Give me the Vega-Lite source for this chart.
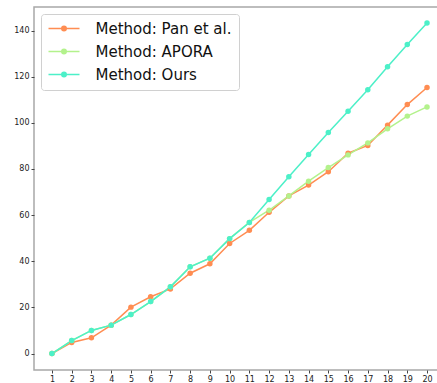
{
  "$schema": "https://vega.github.io/schema/vega-lite/v6.json",
  "width": 410,
  "height": 363,
  "autosize": {"type": "none"},
  "padding": {"left": 34, "top": 7, "right": 0, "bottom": 13},
  "background": "white",
  "config": {
    "view": {"stroke": "#a8a8a8", "strokeWidth": 1.5},
    "font": "DejaVu Sans",
    "axis": {
      "grid": false,
      "domain": false,
      "labelFont": "DejaVu Sans",
      "labelFontSize": 8,
      "labelColor": "#222",
      "tickColor": "#444",
      "tickSize": 3,
      "labelPadding": 2,
      "title": null
    }
  },
  "data": {
    "values": [
      {"x": 1, "method": "Method: Pan et al.", "value": 0},
      {"x": 2, "method": "Method: Pan et al.", "value": 4.8},
      {"x": 3, "method": "Method: Pan et al.", "value": 6.8},
      {"x": 4, "method": "Method: Pan et al.", "value": 12.3},
      {"x": 5, "method": "Method: Pan et al.", "value": 20.1},
      {"x": 6, "method": "Method: Pan et al.", "value": 24.6},
      {"x": 7, "method": "Method: Pan et al.", "value": 28.0},
      {"x": 8, "method": "Method: Pan et al.", "value": 34.8},
      {"x": 9, "method": "Method: Pan et al.", "value": 38.9},
      {"x": 10, "method": "Method: Pan et al.", "value": 47.7},
      {"x": 11, "method": "Method: Pan et al.", "value": 53.4},
      {"x": 12, "method": "Method: Pan et al.", "value": 61.2},
      {"x": 13, "method": "Method: Pan et al.", "value": 68.3},
      {"x": 14, "method": "Method: Pan et al.", "value": 73.0},
      {"x": 15, "method": "Method: Pan et al.", "value": 78.8},
      {"x": 16, "method": "Method: Pan et al.", "value": 86.8},
      {"x": 17, "method": "Method: Pan et al.", "value": 90.2},
      {"x": 18, "method": "Method: Pan et al.", "value": 99.0},
      {"x": 19, "method": "Method: Pan et al.", "value": 107.9},
      {"x": 20, "method": "Method: Pan et al.", "value": 115.3},
      {"x": 1, "method": "Method: APORA", "value": 0},
      {"x": 2, "method": "Method: APORA", "value": 5.6},
      {"x": 3, "method": "Method: APORA", "value": 10.0},
      {"x": 4, "method": "Method: APORA", "value": 12.3},
      {"x": 5, "method": "Method: APORA", "value": 16.9},
      {"x": 6, "method": "Method: APORA", "value": 22.5},
      {"x": 7, "method": "Method: APORA", "value": 28.9},
      {"x": 8, "method": "Method: APORA", "value": 37.6},
      {"x": 9, "method": "Method: APORA", "value": 41.3},
      {"x": 10, "method": "Method: APORA", "value": 49.8},
      {"x": 11, "method": "Method: APORA", "value": 56.8},
      {"x": 12, "method": "Method: APORA", "value": 62.1},
      {"x": 13, "method": "Method: APORA", "value": 68.3},
      {"x": 14, "method": "Method: APORA", "value": 74.7},
      {"x": 15, "method": "Method: APORA", "value": 80.6},
      {"x": 16, "method": "Method: APORA", "value": 86.1},
      {"x": 17, "method": "Method: APORA", "value": 91.3},
      {"x": 18, "method": "Method: APORA", "value": 97.4},
      {"x": 19, "method": "Method: APORA", "value": 102.9},
      {"x": 20, "method": "Method: APORA", "value": 106.9},
      {"x": 1, "method": "Method: Ours", "value": 0},
      {"x": 2, "method": "Method: Ours", "value": 5.6},
      {"x": 3, "method": "Method: Ours", "value": 10.0},
      {"x": 4, "method": "Method: Ours", "value": 12.3},
      {"x": 5, "method": "Method: Ours", "value": 16.9},
      {"x": 6, "method": "Method: Ours", "value": 22.5},
      {"x": 7, "method": "Method: Ours", "value": 28.9},
      {"x": 8, "method": "Method: Ours", "value": 37.6},
      {"x": 9, "method": "Method: Ours", "value": 41.3},
      {"x": 10, "method": "Method: Ours", "value": 49.8},
      {"x": 11, "method": "Method: Ours", "value": 56.8},
      {"x": 12, "method": "Method: Ours", "value": 66.8},
      {"x": 13, "method": "Method: Ours", "value": 76.6},
      {"x": 14, "method": "Method: Ours", "value": 86.3},
      {"x": 15, "method": "Method: Ours", "value": 95.8},
      {"x": 16, "method": "Method: Ours", "value": 105.0},
      {"x": 17, "method": "Method: Ours", "value": 114.3},
      {"x": 18, "method": "Method: Ours", "value": 124.3},
      {"x": 19, "method": "Method: Ours", "value": 133.9},
      {"x": 20, "method": "Method: Ours", "value": 143.3}
    ]
  },
  "mark": {
    "type": "line",
    "strokeWidth": 1.5,
    "clip": true,
    "point": {"filled": true, "size": 30, "opacity": 1}
  },
  "encoding": {
    "x": {
      "field": "x",
      "type": "quantitative",
      "scale": {"domain": [0.09, 20.86], "nice": false, "zero": false},
      "axis": {"values": [1,2,3,4,5,6,7,8,9,10,11,12,13,14,15,16,17,18,19,20], "format": "d"}
    },
    "y": {
      "field": "value",
      "type": "quantitative",
      "scale": {"domain": [-7.15, 150.2], "nice": false, "zero": false},
      "axis": {"values": [0, 20, 40, 60, 80, 100, 120, 140], "format": "d"}
    },
    "color": {
      "field": "method",
      "type": "nominal",
      "sort": ["Method: Pan et al.", "Method: APORA", "Method: Ours"],
      "scale": {
        "domain": ["Method: Pan et al.", "Method: APORA", "Method: Ours"],
        "range": ["#ff8d52", "#b3f28c", "#4cf0c8"]
      },
      "legend": {
        "title": null,
        "orient": "top-left",
        "offset": 7,
        "labelFont": "DejaVu Sans",
        "labelFontSize": 15,
        "labelColor": "#111",
        "labelLimit": 400,
        "labelOffset": 32.5,
        "rowPadding": 7,
        "padding": 7,
        "strokeColor": "#d0d0d0",
        "fillColor": "white",
        "cornerRadius": 3,
        "symbolType": "M-1.4,0H4.8M1.25,0A0.45,0.45 0 1,0 2.15,0A0.45,0.45 0 1,0 1.25,0ZM1.5,0A0.2,0.2 0 1,0 1.9,0A0.2,0.2 0 1,0 1.5,0Z",
        "symbolSize": 100,
        "symbolStrokeWidth": 1.5,
        "symbolOpacity": 1
      }
    },
    "order": {"field": "x", "type": "quantitative"}
  }
}
